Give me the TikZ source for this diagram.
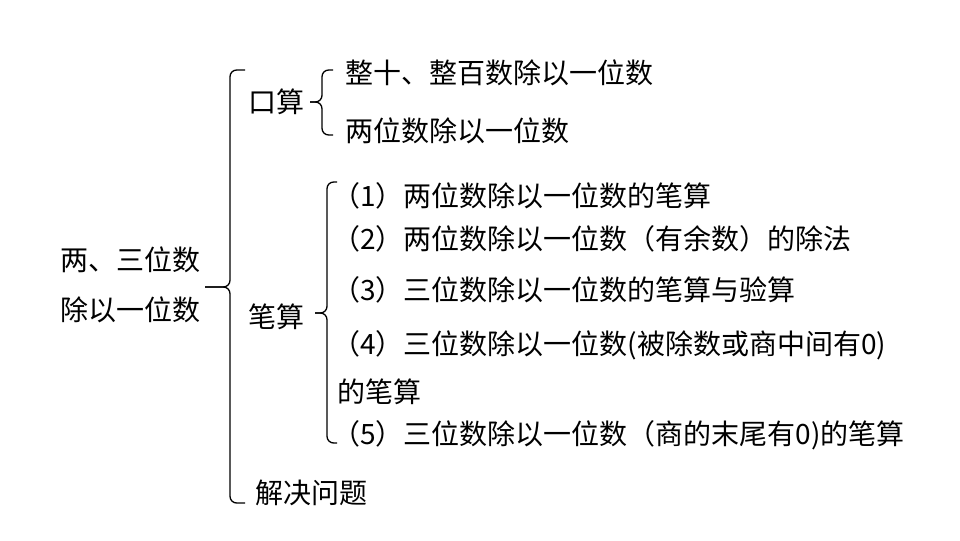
\documentclass[tikz,border=0pt]{standalone}
\usepackage{fontspec}
\usepackage{tikz}
\newfontfamily\cjk{Noto Sans CJK SC}

\begin{document}
\begin{tikzpicture}[x=0.75pt,y=-0.75pt,
  every node/.style={font=\cjk\fontsize{21}{25}\selectfont, inner sep=0pt, anchor=west},
  brace/.style={line width=1pt, rounded corners=5pt}]
\useasboundingbox (0,0) rectangle (960,540);

\node (root1) at (60,260) {两、三位数};
\node (root2) at (60,310) {除以一位数};

\node (ks) at (248,102) {口算};
\node (ks1) at (345,73) {整十、整百数除以一位数};
\node (ks2) at (345,131) {两位数除以一位数};

\node (bs) at (248,317) {笔算};
\node (bs1) at (332,196) {（1）两位数除以一位数的笔算};
\node (bs2) at (332,239) {（2）两位数除以一位数（有余数）的除法};
\node (bs3) at (332,290) {（3）三位数除以一位数的笔算与验算};
\node (bs4) at (332,345) {（4）三位数除以一位数(被除数或商中间有0)};
\node (bs4b) at (337,392) {的笔算};
\node (bs5) at (332,435) {（5）三位数除以一位数（商的末尾有0)的笔算};

\node (jj) at (255,493) {解决问题};

% main brace
\coordinate (mtip) at (205,287);
\coordinate (mtop) at (245,70);
\coordinate (mbot) at (245,503);
\draw[brace] (mtop) -- (230,70) -- (230,287) -- (mtip);
\draw[brace] (mtip) -- (230,287) -- (230,503) -- (mbot);

% brace of ks
\coordinate (ktip) at (310,102);
\coordinate (ktop) at (333,70);
\coordinate (kbot) at (333,135);
\draw[brace] (ktop) -- (322,70) -- (322,102) -- (ktip);
\draw[brace] (ktip) -- (322,102) -- (322,135) -- (kbot);

% brace of bs
\coordinate (btip) at (315,313);
\coordinate (btop) at (337,182);
\coordinate (bbot) at (337,443);
\draw[brace] (btop) -- (327,182) -- (327,313) -- (btip);
\draw[brace] (btip) -- (327,313) -- (327,443) -- (bbot);
\end{tikzpicture}
\end{document}
